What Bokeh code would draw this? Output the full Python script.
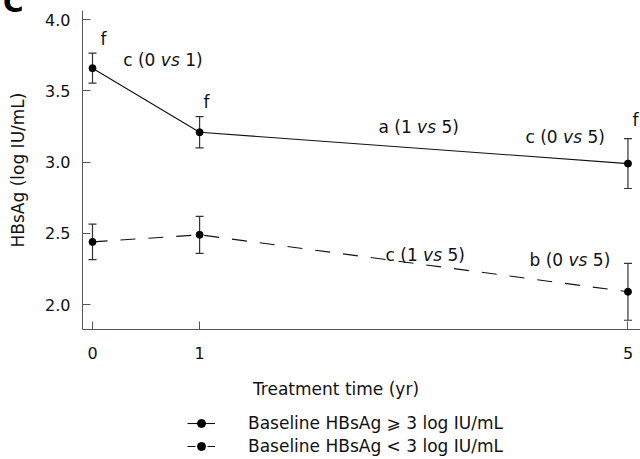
import numpy as np
from bokeh.plotting import figure
from bokeh.layouts import column
from bokeh.models import (ColumnDataSource, Whisker, TeeHead, FixedTicker, PrintfTickFormatter,
                          Legend, LegendItem, Div)
from bokeh.core.properties import value
from bokeh.embed import file_html
from bokeh.resources import INLINE

# ---------------- data ----------------
years = [0, 1, 5]
high_mean = [3.66, 3.21, 2.99]
high_err = [0.105, 0.11, 0.175]
low_mean = [2.44, 2.49, 2.09]
low_err = [0.125, 0.13, 0.20]

x_ticks = [0, 1, 5]
y_ticks = [2.0, 2.5, 3.0, 3.5, 4.0]

series_labels = ["Baseline HBsAg \u2a7e 3 log IU/mL", "Baseline HBsAg < 3 log IU/mL"]
x_title = "Treatment time (yr)"
y_title = "HBsAg (log IU/mL)"
panel_letter = "C"

# significance marks "f" (anchored in data units)
sig_text = ["f", "f", "f"]
sig_x = [0.075, 1.036, 5.042]
sig_y = [3.865, 3.419, 3.293]

# comparison annotations: letter (a vs b)
cmp_letter = ["c", "a", "c", "c", "b"]
cmp_from = ["0", "1", "0", "1", "0"]
cmp_to = ["1", "5", "5", "5", "5"]
cmp_x = [0.287, 2.67, 4.043, 2.736, 4.08]
cmp_y = [3.714, 3.244, 3.176, 2.345, 2.31]

FONT = "DejaVu Sans"
FS = 16        # tick labels
FS_T = 17      # axis titles and legend
FS_A = 17      # in-plot annotations
INK = "#111111"
# DejaVu Sans advance widths (em)
W = {" ": .318, "(": .390, ")": .390, "0": .636, "1": .636, "5": .636,
     "a": .613, "b": .635, "c": .550, "s": .521, "v": .592}


def tw(s):
    return sum(W.get(ch, .6) for ch in s) * FS_A


# ---------------- top strip with panel letter (overflows onto transparent plot) ----------------
top = Div(text=panel_letter, width=640, height=6, margin=0,
          styles={"font-family": FONT, "font-size": "28px", "font-weight": "bold",
                  "line-height": "5px", "padding-left": "3px", "color": "#000000",
                  "overflow": "visible"})

# ---------------- main plot ----------------
p = figure(width=640, height=364, output_backend="svg", toolbar_location=None,
           x_range=(-0.0934, 5.117), y_range=(1.825, 4.065),
           min_border_left=82, min_border_right=0, min_border_top=4, min_border_bottom=41)
p.outline_line_color = None
p.xgrid.visible = False
p.ygrid.visible = False
p.background_fill_alpha = 0
p.border_fill_alpha = 0

for ax in (p.xaxis[0], p.yaxis[0]):
    ax.axis_line_color = "#555555"
    ax.major_tick_line_color = "#555555"
    ax.minor_tick_line_color = None
    ax.major_tick_out = 0
    ax.major_tick_in = 8
    ax.major_label_text_font = FONT
    ax.major_label_text_font_size = f"{FS}px"
    ax.major_label_text_color = INK
    ax.axis_label_text_font = FONT
    ax.axis_label_text_font_size = f"{FS_T}px"
    ax.axis_label_text_font_style = "normal"
    ax.axis_label_text_color = INK

p.xaxis.ticker = FixedTicker(ticks=x_ticks)
p.xaxis.major_label_standoff = 17
p.yaxis.ticker = FixedTicker(ticks=y_ticks)
p.yaxis.formatter = PrintfTickFormatter(format="%.1f")
p.yaxis.major_label_standoff = 12
p.yaxis.axis_label = y_title
p.yaxis.axis_label_standoff = 14

src_hi = ColumnDataSource(dict(x=years, y=high_mean,
                               upper=[m + e for m, e in zip(high_mean, high_err)],
                               lower=[m - e for m, e in zip(high_mean, high_err)]))
src_lo = ColumnDataSource(dict(x=years, y=low_mean,
                               upper=[m + e for m, e in zip(low_mean, low_err)],
                               lower=[m - e for m, e in zip(low_mean, low_err)]))

p.line("x", "y", source=src_hi, line_color=INK, line_width=1.1)
p.line("x", "y", source=src_lo, line_color=INK, line_width=1.1, line_dash="15 13")

for src in (src_hi, src_lo):
    w = Whisker(base="x", upper="upper", lower="lower", source=src,
                line_color="#333333", line_width=1.2,
                upper_head=TeeHead(size=8, line_color="#333333", line_width=1.2),
                lower_head=TeeHead(size=8, line_color="#333333", line_width=1.2))
    p.add_layout(w)

p.scatter("x", "y", source=src_hi, size=7, color="#000000")
p.scatter("x", "y", source=src_lo, size=7, color="#000000")

# significance marks
p.text(x=sig_x, y=sig_y, text=sig_text, text_font=value(FONT), text_font_size=f"{FS_A}px",
       text_baseline="middle", text_align="left", text_color=INK)

# comparison annotations, with italic "vs"
pre = [f"{l} ({a}" for l, a in zip(cmp_letter, cmp_from)]
suf = [f"{b})" for b in cmp_to]
src_cmp = ColumnDataSource(dict(x=cmp_x, y=cmp_y, pre=pre, vs=["vs"] * len(pre), suf=suf,
                                dx_vs=[tw(s) + tw(" ") for s in pre],
                                dx_suf=[tw(s) + tw(" vs ") for s in pre]))
common = dict(x="x", y="y", source=src_cmp, text_font=value(FONT), text_font_size=f"{FS_A}px",
              text_baseline="middle", text_align="left", text_color=INK)
p.text(text="pre", **common)
p.text(text="vs", x_offset="dx_vs", text_font_style="italic", **common)
p.text(text="suf", x_offset="dx_suf", **common)

# ---------------- bottom strip: x title + legend ----------------
# frame aligned with main frame (canvas x 82..640); data units = pixels
bot = figure(width=640, height=89, output_backend="svg", toolbar_location=None,
             x_range=(82, 640), y_range=(0, 89), x_axis_location=None, y_axis_location=None,
             min_border_left=82, min_border_right=0, min_border_top=0, min_border_bottom=0)
bot.outline_line_color = None
bot.xgrid.visible = False
bot.ygrid.visible = False
bot.text(x=[335.5], y=[71], text=[x_title], text_font=value(FONT), text_font_size=f"{FS_T}px",
         text_align="center", text_baseline="middle", text_color=INK)

nan = np.array([np.nan])
lg1_line = bot.line(x=nan, y=nan, line_color=INK, line_width=1.1)
lg1_dot = bot.scatter(x=nan, y=nan, size=7, color="#000000")
lg2_line = bot.line(x=nan, y=nan, line_color=INK, line_width=1.1, line_dash="8 12")
lg2_dot = bot.scatter(x=nan, y=nan, size=7, color="#000000")

legend = Legend(items=[LegendItem(label=series_labels[0], renderers=[lg1_line, lg1_dot]),
                       LegendItem(label=series_labels[1], renderers=[lg2_line, lg2_dot])],
                location=(105, 3), glyph_width=28, glyph_height=20, label_height=20,
                label_standoff=33, spacing=3, padding=0, margin=0,
                border_line_color=None, background_fill_alpha=0,
                label_text_font=FONT, label_text_font_size=f"{FS_T}px", label_text_color=INK)
bot.add_layout(legend)

layout = column(top, p, bot, spacing=0)
open("out.html", "w").write(file_html(layout, INLINE))
